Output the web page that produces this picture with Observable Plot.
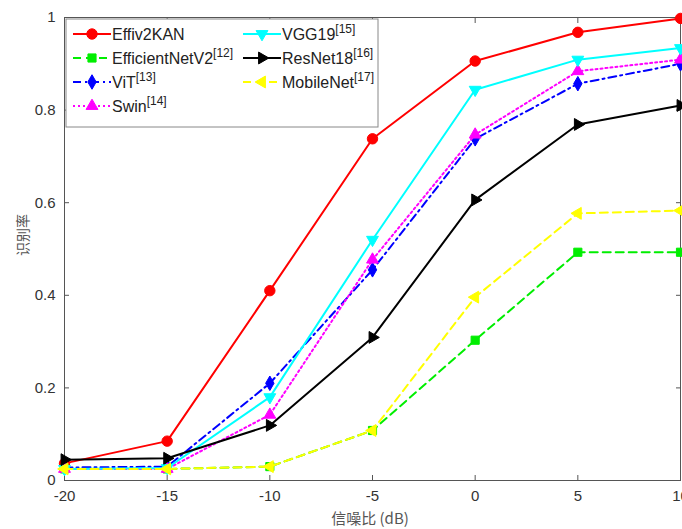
<!DOCTYPE html>
<html><head><meta charset="utf-8">
<script src="https://cdn.jsdelivr.net/npm/d3@7"></script>
<script src="https://cdn.jsdelivr.net/npm/@observablehq/plot@0.6"></script>
<style>body{margin:0;background:#fff}</style>
</head><body><div id="chart"></div>
<script>
// ---- data ----
const snr = [-20, -15, -10, -5, 0, 5, 10];
const effiv2kan      = [0.037, 0.085, 0.410, 0.738, 0.906, 0.968, 0.998];
const efficientnetv2 = [0.025, 0.025, 0.030, 0.108, 0.303, 0.493, 0.493];
const vit            = [0.028, 0.030, 0.210, 0.455, 0.738, 0.857, 0.900];
const swin           = [0.025, 0.025, 0.142, 0.477, 0.747, 0.884, 0.909];
const vgg19          = [0.025, 0.027, 0.180, 0.520, 0.844, 0.909, 0.934];
const resnet18       = [0.045, 0.048, 0.119, 0.309, 0.606, 0.769, 0.810];
const mobilenet      = [0.025, 0.025, 0.030, 0.108, 0.396, 0.577, 0.583];
const seriesNames = ["Effiv2KAN", "EfficientNetV2", "ViT", "Swin", "VGG19", "ResNet18", "MobileNet"];
const seriesRefs  = ["", "[12]", "[13]", "[14]", "[15]", "[16]", "[17]"];
const seriesValues = [effiv2kan, efficientnetv2, vit, swin, vgg19, resnet18, mobilenet];
const xTicks = [-20, -15, -10, -5, 0, 5, 10];
const yTicks = [0, 0.2, 0.4, 0.6, 0.8, 1];
const xLabel = "信噪比 (dB)";
const yLabel = "识别率";

// ---- styles ----
function rotTri(angleDeg) {
  const a = angleDeg * Math.PI / 180, c = Math.cos(a), s = Math.sin(a);
  const sqrt3 = Math.sqrt(3);
  return {draw(ctx, size) {
    const y = -Math.sqrt(size / (sqrt3 * 3));
    const pts = [[0, y * 2], [-sqrt3 * y, -y], [sqrt3 * y, -y]];
    pts.forEach(([px, py], i) => {
      const rx = px * c - py * s, ry = px * s + py * c;
      i ? ctx.lineTo(rx, ry) : ctx.moveTo(rx, ry);
    });
    ctx.closePath();
  }};
}
const styles = [
  {color: "#ff0000", dash: null,      symbol: d3.symbolCircle,  r: 5.2},
  {color: "#00ee00", dash: "8,5",     symbol: d3.symbolSquare,  r: 4.6},
  {color: "#0000ff", dash: "8,4,2,4", symbol: d3.symbolDiamond, r: 4.4},
  {color: "#ff00ff", dash: "2,3",     symbol: rotTri(0),        r: 4.4},
  {color: "#00ffff", dash: null,      symbol: rotTri(180),      r: 4.4},
  {color: "#000000", dash: null,      symbol: rotTri(90),       r: 4.4},
  {color: "#ffff00", dash: "8,5",     symbol: rotTri(-90),      r: 4.4}
];

const rows = seriesNames.flatMap((name, i) => snr.map((x, j) => ({snr: x, value: seriesValues[i][j], series: name})));

const marks = [];
seriesNames.forEach((name, i) => {
  const st = styles[i];
  const data = rows.filter(d => d.series === name);
  marks.push(Plot.line(data, {x: "snr", y: "value", stroke: st.color, strokeWidth: 2, strokeDasharray: st.dash}));
  marks.push(Plot.dot(data, {x: "snr", y: "value", symbol: st.symbol, r: st.r, fill: st.color, stroke: st.color, strokeWidth: 1}));
});

const axisColor = "#555";
const plot = Plot.plot({
  width: 682, height: 529,
  marginLeft: 64, marginRight: 2, marginTop: 17, marginBottom: 49,
  style: {fontFamily: "'Liberation Sans', Arial, sans-serif", fontSize: "15px", color: "#333", background: "white"},
  x: {domain: [-20, 10], label: null},
  y: {domain: [0, 1], label: null},
  marks: [
    Plot.frame({stroke: axisColor, strokeWidth: 1}),
    Plot.axisX({anchor: "bottom", ticks: xTicks, tickSize: -5, tickPadding: 15, tickFormat: d => String(d), label: null, stroke: axisColor}),
    Plot.axisX({anchor: "top", ticks: xTicks, tickSize: -5, tickFormat: () => "", label: null, stroke: axisColor}),
    Plot.axisY({anchor: "left", ticks: yTicks, tickSize: -5, tickPadding: 14, tickFormat: d => String(d), label: null, stroke: axisColor}),
    Plot.axisY({anchor: "right", ticks: yTicks, tickSize: -5, tickFormat: () => "", label: null, stroke: axisColor}),
    ...marks
  ]
});

const svg = d3.select(plot);
// axis labels
svg.append("text").attr("x", 370).attr("y", 524).attr("text-anchor", "middle")
  .attr("font-family", "'Noto Sans CJK SC', 'Liberation Sans', sans-serif").attr("font-size", 15).attr("fill", "#555")
  .text(xLabel);
svg.append("text").attr("transform", "translate(28,235) rotate(-90)").attr("text-anchor", "middle")
  .attr("font-family", "'Noto Sans CJK SC', 'Liberation Sans', sans-serif").attr("font-size", 14).attr("fill", "#555")
  .text(yLabel);

// legend
const lg = svg.append("g");
lg.append("rect").attr("x", 66).attr("y", 19).attr("width", 312).attr("height", 108)
  .attr("fill", "white").attr("stroke", "#888").attr("stroke-width", 1);
const colX = [73, 243], rowY = [34, 58, 82, 106];
seriesNames.forEach((name, i) => {
  const st = styles[i];
  const col = i < 4 ? 0 : 1, row = i < 4 ? i : i - 4;
  const x0 = colX[col], y0 = rowY[row];
  lg.append("line").attr("x1", x0).attr("x2", x0 + 38).attr("y1", y0).attr("y2", y0)
    .attr("stroke", st.color).attr("stroke-width", 2).attr("stroke-dasharray", st.dash);
  lg.append("path").attr("transform", `translate(${x0 + 19},${y0})`)
    .attr("d", d3.symbol().type(st.symbol).size(Math.PI * st.r * st.r)())
    .attr("fill", st.color).attr("stroke", st.color);
  const t = lg.append("text").attr("x", x0 + 39).attr("y", y0 + 6).attr("text-anchor", "start")
    .attr("font-family", "'Liberation Sans', Arial, sans-serif").attr("font-size", 16).attr("fill", "#222");
  t.append("tspan").text(name);
  if (seriesRefs[i]) t.append("tspan").attr("font-size", 12).attr("dy", -7).text(seriesRefs[i]);
});

document.getElementById("chart").appendChild(plot);
</script>
</body></html>
